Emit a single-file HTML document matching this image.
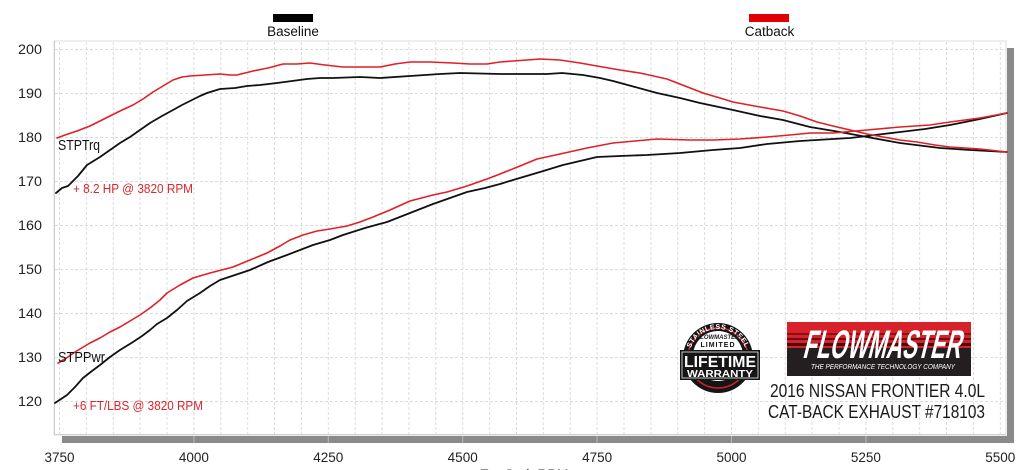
<!DOCTYPE html>
<html>
<head>
<meta charset="utf-8">
<style>
html,body{margin:0;padding:0;background:#fff;}
svg{display:block;}
</style>
</head>
<body>
<svg width="1024" height="470" viewBox="0 0 1024 470" xmlns="http://www.w3.org/2000/svg" font-family="Liberation Sans, Arial, sans-serif">
  <rect x="0" y="0" width="1024" height="470" fill="#fff"/>
  <!-- plot area -->
  <rect x="54" y="41" width="952" height="394" fill="#fff" stroke="#dedede" stroke-width="1"/>
  <!-- shadow bars -->
  <rect x="1007" y="48" width="7" height="395" fill="#8a8a8a"/>
  <rect x="62" y="436" width="952" height="7" fill="#8a8a8a"/>
  <line x1="54" y1="434.5" x2="1006" y2="434.5" stroke="#cfcfcf" stroke-width="1"/>
  <line x1="54.5" y1="41" x2="54.5" y2="435" stroke="#cfcfcf" stroke-width="1"/>

  <!-- grid -->
  <g stroke="#dcdcdc" stroke-width="1" stroke-dasharray="3,2">
    <line x1="55" y1="49.5" x2="1006" y2="49.5"/>
    <line x1="55" y1="93.5" x2="1006" y2="93.5"/>
    <line x1="55" y1="137.5" x2="1006" y2="137.5"/>
    <line x1="55" y1="181.5" x2="1006" y2="181.5"/>
    <line x1="55" y1="225.5" x2="1006" y2="225.5"/>
    <line x1="55" y1="269.5" x2="1006" y2="269.5"/>
    <line x1="55" y1="313.5" x2="1006" y2="313.5"/>
    <line x1="55" y1="357.5" x2="1006" y2="357.5"/>
    <line x1="55" y1="401.5" x2="1006" y2="401.5"/>
  </g>
  <g stroke="#dcdcdc" stroke-width="1" stroke-dasharray="3,2" id="vgrid">
    <line x1="59.5" y1="42" x2="59.5" y2="434"/>
    <line x1="86.4" y1="42" x2="86.4" y2="434"/>
    <line x1="113.3" y1="42" x2="113.3" y2="434"/>
    <line x1="140.1" y1="42" x2="140.1" y2="434"/>
    <line x1="167.0" y1="42" x2="167.0" y2="434"/>
    <line x1="193.9" y1="42" x2="193.9" y2="434"/>
    <line x1="220.8" y1="42" x2="220.8" y2="434"/>
    <line x1="247.7" y1="42" x2="247.7" y2="434"/>
    <line x1="274.5" y1="42" x2="274.5" y2="434"/>
    <line x1="301.4" y1="42" x2="301.4" y2="434"/>
    <line x1="328.3" y1="42" x2="328.3" y2="434"/>
    <line x1="355.2" y1="42" x2="355.2" y2="434"/>
    <line x1="382.1" y1="42" x2="382.1" y2="434"/>
    <line x1="408.9" y1="42" x2="408.9" y2="434"/>
    <line x1="435.8" y1="42" x2="435.8" y2="434"/>
    <line x1="462.7" y1="42" x2="462.7" y2="434"/>
    <line x1="489.6" y1="42" x2="489.6" y2="434"/>
    <line x1="516.5" y1="42" x2="516.5" y2="434"/>
    <line x1="543.3" y1="42" x2="543.3" y2="434"/>
    <line x1="570.2" y1="42" x2="570.2" y2="434"/>
    <line x1="597.1" y1="42" x2="597.1" y2="434"/>
    <line x1="624.0" y1="42" x2="624.0" y2="434"/>
    <line x1="650.9" y1="42" x2="650.9" y2="434"/>
    <line x1="677.7" y1="42" x2="677.7" y2="434"/>
    <line x1="704.6" y1="42" x2="704.6" y2="434"/>
    <line x1="731.5" y1="42" x2="731.5" y2="434"/>
    <line x1="758.4" y1="42" x2="758.4" y2="434"/>
    <line x1="785.3" y1="42" x2="785.3" y2="434"/>
    <line x1="812.1" y1="42" x2="812.1" y2="434"/>
    <line x1="839.0" y1="42" x2="839.0" y2="434"/>
    <line x1="865.9" y1="42" x2="865.9" y2="434"/>
    <line x1="892.8" y1="42" x2="892.8" y2="434"/>
    <line x1="919.7" y1="42" x2="919.7" y2="434"/>
    <line x1="946.5" y1="42" x2="946.5" y2="434"/>
    <line x1="973.4" y1="42" x2="973.4" y2="434"/>
    <line x1="1000.3" y1="42" x2="1000.3" y2="434"/>
  </g>
  <!-- tick marks on bottom bar -->
  <g stroke="#b8b8b8" stroke-width="1">
    <line x1="193.9" y1="436" x2="193.9" y2="443"/>
    <line x1="328.3" y1="436" x2="328.3" y2="443"/>
    <line x1="462.7" y1="436" x2="462.7" y2="443"/>
    <line x1="597.1" y1="436" x2="597.1" y2="443"/>
    <line x1="731.5" y1="436" x2="731.5" y2="443"/>
    <line x1="865.9" y1="436" x2="865.9" y2="443"/>
  </g>

  <!-- y labels -->
  <g font-size="13.5" fill="#222" text-anchor="end">
    <text x="42" y="54" textLength="24" lengthAdjust="spacingAndGlyphs">200</text>
    <text x="42" y="98" textLength="24" lengthAdjust="spacingAndGlyphs">190</text>
    <text x="42" y="142" textLength="24" lengthAdjust="spacingAndGlyphs">180</text>
    <text x="42" y="186" textLength="24" lengthAdjust="spacingAndGlyphs">170</text>
    <text x="42" y="230" textLength="24" lengthAdjust="spacingAndGlyphs">160</text>
    <text x="42" y="274" textLength="24" lengthAdjust="spacingAndGlyphs">150</text>
    <text x="42" y="318" textLength="24" lengthAdjust="spacingAndGlyphs">140</text>
    <text x="42" y="362" textLength="24" lengthAdjust="spacingAndGlyphs">130</text>
    <text x="42" y="406" textLength="24" lengthAdjust="spacingAndGlyphs">120</text>
  </g>
  <!-- x labels -->
  <g font-size="13.5" fill="#222" text-anchor="middle">
    <text x="59.5" y="462">3750</text>
    <text x="193.9" y="462">4000</text>
    <text x="328.3" y="462">4250</text>
    <text x="462.7" y="462">4500</text>
    <text x="597.1" y="462">4750</text>
    <text x="731.5" y="462">5000</text>
    <text x="865.9" y="462">5250</text>
    <text x="1000.3" y="462">5500</text>
    <text x="524" y="479" font-size="14">EngSpd, RPM</text>
  </g>

  <!-- legend -->
  <rect x="273" y="14" width="40" height="8" fill="#000"/>
  <text x="293" y="36" font-size="13.5" fill="#111" text-anchor="middle">Baseline</text>
  <rect x="749" y="14" width="40" height="8" fill="#e00000"/>
  <text x="769.5" y="36" font-size="13.5" fill="#111" text-anchor="middle">Catback</text>

  <!-- series -->
  <g fill="none" stroke-linejoin="round" stroke-linecap="round">
    <polyline stroke="#111" stroke-width="1.8" points="56,193 62,188 68,186 78,176 87,165 100,157 110,150 120,143 130,137 140,130 150,123 162,116 173,110 182,105 190,101 200,96 207,93 220,89 235,88 247,86 260,85 277,83 292,81 307,79 320,78 333,78 360,77 380,78 410,76 440,74 460,73 500,74 530,74 547,74 562,73 583,75 600,78 613,81 635,87 657,93 680,98 700,103 733,110 760,116 783,120 810,127 840,132 867,137 900,143 940,148 970,150 1007,152"/>
    <polyline stroke="#111" stroke-width="1.8" points="55,403 61,399 67,395 75,387 83,378 92,371 100,365 110,357 120,350 133,342 142,336 150,330 157,324 167,318 177,310 187,301 200,293 210,286 220,280 235,275 250,270 268,262 287,255 300,250 313,245 330,240 343,235 365,228 387,222 410,213 433,204 450,198 467,192 485,188 500,184 513,180 540,172 563,165 580,161 597,157 620,156 647,155 680,153 713,150 740,148 767,144 800,141 833,139 850,138 867,136 883,134 900,132 925,129 950,125 980,119 1007,113"/>
    <polyline stroke="#e01f26" stroke-width="1.6" points="57,138 65,135 77,131 90,126 100,121 110,116 120,111 133,105 143,99 153,92 163,86 173,80 182,77 190,76 205,75 220,74 230,75 237,75 245,73 253,71 268,68 283,64 297,64 310,63 325,65 343,67 360,67 380,67 395,64 410,62 430,62 453,63 470,64 487,64 500,62 513,61 527,60 540,59 560,60 580,63 597,66 620,70 640,73 667,79 685,86 703,93 720,98 733,102 760,107 783,111 800,116 817,122 833,126 850,130 867,134 883,137 900,140 917,142 935,145 950,147 980,149 1007,152"/>
    <polyline stroke="#e01f26" stroke-width="1.6" points="58,363 65,359 75,352 90,343 100,338 110,332 120,327 130,321 140,315 150,308 160,300 167,293 180,285 193,278 210,273 233,267 250,260 267,253 280,246 290,240 303,235 317,231 330,229 347,226 360,222 373,217 390,210 410,201 433,195 447,192 467,186 487,179 500,174 520,166 537,159 560,154 587,148 613,143 635,141 657,139 690,140 713,140 740,139 767,137 790,135 810,133 833,133 867,130 900,127 930,125 950,122 980,118 1007,113"/>
  </g>

  <!-- annotations -->
  <text x="58" y="150" font-size="15" fill="#111" textLength="42" lengthAdjust="spacingAndGlyphs">STPTrq</text>
  <text x="73" y="193" font-size="13" fill="#d9262c" textLength="120" lengthAdjust="spacingAndGlyphs">+ 8.2 HP @ 3820 RPM</text>
  <text x="58" y="362" font-size="15" fill="#111" textLength="47" lengthAdjust="spacingAndGlyphs">STPPwr</text>
  <text x="73" y="410" font-size="13" fill="#d9262c" textLength="130" lengthAdjust="spacingAndGlyphs">+6 FT/LBS @ 3820 RPM</text>

  <!-- warranty badge -->
  <g>
    <circle cx="718" cy="358" r="35" fill="#151515"/>
    <circle cx="718" cy="358" r="30" fill="none" stroke="#d02030" stroke-width="1.5"/>
    <circle cx="718" cy="356" r="25" fill="#fff"/>
    <defs>
      <path id="arcTop" d="M 689 358 A 29 29 0 0 1 747 358"/>
    </defs>
    <text font-size="7" font-weight="bold" fill="#fff" letter-spacing="0.5"><textPath href="#arcTop" startOffset="50%" text-anchor="middle">STAINLESS STEEL</textPath></text>
    <text x="718" y="339" font-size="6" font-style="italic" font-weight="bold" fill="#222" text-anchor="middle">FLOWMASTER</text>
    <text x="718" y="347" font-size="7" font-weight="bold" fill="#111" text-anchor="middle" letter-spacing="1">LIMITED</text>
    <rect x="680" y="350" width="80" height="30" fill="#151515"/>
    <rect x="682" y="352" width="76" height="26" fill="none" stroke="#eee" stroke-width="0.8"/>
    <text x="720" y="367" font-size="16" font-weight="bold" fill="#fff" text-anchor="middle" textLength="72" lengthAdjust="spacingAndGlyphs">LIFETIME</text>
    <text x="720" y="377" font-size="10.5" font-weight="bold" fill="#fff" text-anchor="middle" textLength="66" lengthAdjust="spacingAndGlyphs">WARRANTY</text>
  </g>

  <!-- Flowmaster logo -->
  <g>
    <rect x="787" y="322" width="184" height="54" fill="#d8222b"/>
    <rect x="787" y="333" width="184" height="2" fill="#8a1015"/>
    <rect x="787" y="338" width="184" height="2" fill="#6a0c10"/>
    <rect x="787" y="343" width="184" height="3" fill="#4a0a0c"/>
    <rect x="787" y="348" width="184" height="28" fill="#231f20"/>
    <text x="0" y="0" transform="translate(802,358) skewX(-14)" font-size="40" font-weight="bold" fill="#fff" textLength="158" lengthAdjust="spacingAndGlyphs">FLOWMASTER</text>
    <text x="811" y="369" font-size="7.5" font-style="italic" fill="#fff" textLength="144" lengthAdjust="spacingAndGlyphs">THE PERFORMANCE TECHNOLOGY COMPANY</text>
  </g>

  <!-- title text -->
  <text x="770" y="397" font-size="18" fill="#1a1a1a" textLength="215" lengthAdjust="spacingAndGlyphs">2016 NISSAN FRONTIER 4.0L</text>
  <text x="768" y="418" font-size="18" fill="#1a1a1a" textLength="217" lengthAdjust="spacingAndGlyphs">CAT-BACK EXHAUST #718103</text>
</svg>
</body>
</html>
